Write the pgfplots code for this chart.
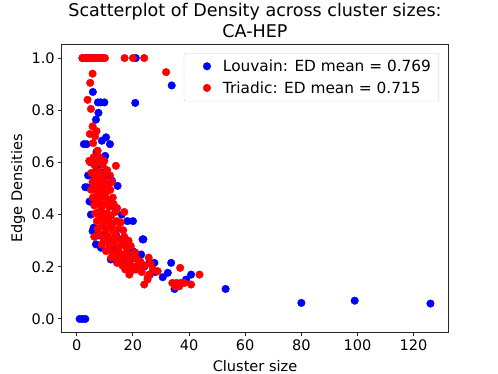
\documentclass[border=0pt]{standalone}
\usepackage{fontspec}
\setmainfont{DejaVu Sans}
\usepackage{pgfplots}
\pgfplotsset{compat=1.18}
\definecolor{mplblue}{RGB}{0,0,255}
\definecolor{mplred}{RGB}{255,0,0}

\begin{document}
\begin{tikzpicture}
\begin{axis}[
  scale only axis,
  width=386bp, height=287bp,
  xmin=-5.3, xmax=132.25,
  ymin=-0.05, ymax=1.05,
  xtick={0,20,...,120},
  ytick={0,0.2,...,1.0},
  yticklabel style={/pgf/number format/.cd, fixed, fixed zerofill, precision=1},
  /pgf/number format/assume math mode=true,
  tick align=outside,
  major tick length=3.8bp,
  xtick pos=bottom, ytick pos=left,
  axis line style={line width=1bp, black!85},
  tick style={line width=1bp, black!85},
  ticklabel style={font=\fontsize{14.6}{17}\selectfont},
  label style={font=\fontsize{14.6}{17}\selectfont},
  xlabel={Cluster size},
  ylabel={Edge Densities},
  xlabel style={at={(axis description cs:0.5,-0.118)}, anchor=center},
  ylabel style={at={(axis description cs:-0.114,0.5)}, anchor=center, rotate=0},
  title={Scatterplot of Density across cluster sizes:\\CA-HEP},
  title style={at={(axis description cs:0.5,1)}, anchor=south, inner sep=0pt, yshift=1.5bp,
    align=center, font=\fontsize{17.6}{20.3}\selectfont},
  legend cell align=left,
  legend image code/.code={%
    \path[draw=none, fill=none] (0bp,0bp) -- (31bp,0bp);
    \draw[#1, draw=none, mark repeat=2, mark phase=2] plot coordinates {(0bp,0bp) (17bp,0bp) (31bp,0bp)};},
  legend style={at={(axis description cs:0.977,0.972)}, anchor=north east,
    font=\fontsize{15.4}{17}\selectfont, draw=black!20, rounded corners=2bp,
    fill=white, row sep=4.5bp, inner xsep=6bp, inner ysep=4.5bp},
]
% Louvain
\addplot[only marks, mark=*, mark size=3.8bp, mplblue, mark options={draw=mplblue, fill=mplblue}] coordinates {
(1,0) (2,0) (3,0)
(2,1) (3,1) (4,1) (5,1) (6,1) (7,1) (8,1) (9,1) (21,1)
(5.7,0.87) (20.8,0.828) (33.8,0.895) (7.5,0.83) (8.5,0.83) (9.8,0.83) (7.7,0.79) (6.8,0.764)
(10.4,0.696) (8.9,0.683) (2.5,0.67) (3.5,0.67) (11.8,0.67) (10.1,0.625) (7,0.64) (8,0.60)
(3.8,0.504) (3,0.505) (14.5,0.51) (12.5,0.53) (11,0.55) (9,0.56) (5,0.40) (5.5,0.45) (4.5,0.45)
(18,0.375) (20,0.375) (16,0.40) (13,0.43) (23.7,0.305) (5.6,0.337) (6.8,0.286) (8.6,0.273)
(10,0.33) (12,0.35) (14,0.32) (16,0.3) (18,0.28) (20,0.26) (22.9,0.247) (23.4,0.305)
(12.1,0.228) (15,0.24) (25.8,0.215) (27.6,0.215) (33.6,0.215) (32.4,0.177) (30.6,0.16)
(40.7,0.17) (38.9,0.151) (34.8,0.115) (36,0.13) (53,0.115) (80,0.0615) (99,0.07) (126,0.059)
(7,0.5) (8,0.45) (9,0.4) (10,0.38) (6,0.55) (7,0.58) (11,0.3) (13,0.27) (17,0.22) (19,0.2)
(21,0.19) (24,0.2) (28,0.18) (26,0.17) (6,0.35) (7.5,0.32) (4,0.55) (9.5,0.48) (8.5,0.52)
};
\addlegendentry{Louvain: ED mean = 0.769}
% Triadic
\addplot[only marks, mark=*, mark size=3.8bp, mplred, mark options={draw=mplred, fill=mplred}] coordinates {
(2,1) (3,1) (4,1) (5,1) (6,1) (7,1) (8,1) (9,1) (10,1) (17,1) (20,1) (24,1)
(5.6,0.94) (4.75,0.905) (3.8,0.84) (31.8,0.946) (5,0.805) (5.6,0.738) (4.6,0.709) (5.8,0.674)
(7.4,0.645) (4.4,0.606) (9.75,0.606) (13.9,0.587) (6,0.62) (7,0.6) (8,0.62) (6.5,0.7) (7,0.72)
(4.8,0.60) (6.3,0.59) (7.9,0.61) (9.2,0.59) (10.8,0.57)
(5.2,0.56) (6.1,0.555) (7.6,0.565) (8.9,0.545) (10.3,0.56) (11.8,0.55)
(5.6,0.525) (6.8,0.535) (8.2,0.52) (9.6,0.53) (11.1,0.515) (12.4,0.525)
(5.1,0.495) (6.4,0.505) (7.8,0.49) (9.1,0.50) (10.4,0.485) (11.9,0.495)
(5.7,0.465) (7.1,0.475) (8.4,0.46) (9.9,0.47) (11.3,0.455) (12.8,0.465)
(6.2,0.435) (7.4,0.445) (8.8,0.425) (10.2,0.44) (11.6,0.43) (13.1,0.44) (14.3,0.425)
(6.6,0.405) (7.9,0.41) (9.3,0.395) (10.8,0.405) (12.2,0.395) (13.7,0.41) (16.9,0.41)
(7.1,0.375) (8.3,0.385) (9.8,0.37) (11.2,0.38) (12.7,0.365) (14.2,0.375) (15.6,0.37)
(7.4,0.345) (8.9,0.355) (10.3,0.34) (11.7,0.35) (13.2,0.335) (14.8,0.345) (16.5,0.34)
(6.2,0.315) (7.8,0.325) (9.4,0.31) (10.9,0.32) (12.3,0.305) (13.8,0.315) (15.3,0.305) (16.9,0.315) (18.4,0.30)
(8.8,0.285) (10.2,0.295) (11.6,0.28) (13.1,0.29) (14.6,0.275) (16.2,0.285) (17.6,0.275) (19.2,0.28)
(10.4,0.26) (11.8,0.265) (13.3,0.25) (14.9,0.26) (16.3,0.245) (17.8,0.255) (19.3,0.245) (20.8,0.255)
(12.2,0.235) (13.9,0.24) (15.7,0.23) (17.4,0.235) (19.1,0.225) (21.2,0.23) (22.6,0.22) (25.6,0.235)
(14.3,0.215) (16.2,0.205) (18.1,0.21) (20.3,0.20) (22.1,0.21) (24.2,0.205) (26.3,0.21)
(17.2,0.19) (19.4,0.185) (21.3,0.19) (23.1,0.18) (27.1,0.19)
(18.7,0.17) (25.8,0.17) (43.7,0.17) (25.2,0.151) (28.8,0.183) (36.8,0.196)
(24,0.132) (40.7,0.132) (34,0.138) (35.5,0.138) (37,0.138) (38.3,0.138) (35,0.125) (36.5,0.125)
(25.2,0.158)
};
\addlegendentry{Triadic: ED mean = 0.715}
\end{axis}
\pgfresetboundingbox
\path ([xshift=-62bp,yshift=-42bp]current axis.south west) rectangle ([xshift=50bp,yshift=45bp]current axis.north east);
\end{tikzpicture}
\end{document}
